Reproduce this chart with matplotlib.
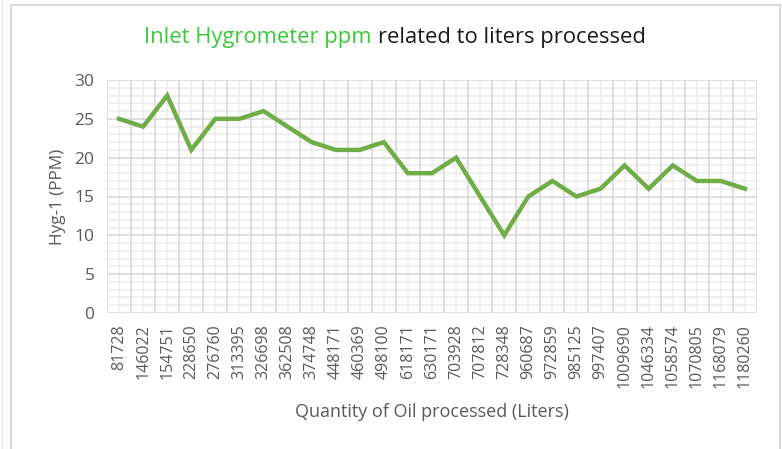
import matplotlib
matplotlib.use("Agg")
import matplotlib.pyplot as plt
from matplotlib.patches import Rectangle
import numpy as np

liters = ["81728", "146022", "154751", "228650", "276760", "313395", "326698",
          "362508", "374748", "448171", "460369", "498100", "618171", "630171",
          "703928", "707812", "728348", "960687", "972859", "985125", "997407",
          "1009690", "1046334", "1058574", "1070805", "1168079", "1180260"]
ppm = [25, 24, 28, 21, 25, 25, 26, 24, 22, 21, 21, 22, 18, 18, 20, 15, 10,
       15, 17, 15, 16, 19, 16, 19, 17, 17, 16]

W, H = 782, 449
fig = plt.figure(figsize=(W / 100, H / 100), dpi=100)
plt.rcParams['font.family'] = ['Open Sans', 'DejaVu Sans']

# chart border (bottom edge lies outside the image)
fig.patches.append(Rectangle((11 / W, -10 / H), (780 - 11) / W, (H + 5) / H,
                             transform=fig.transFigure, fill=False,
                             edgecolor='#D9D9D9', linewidth=1.5))
fig.lines.append(plt.Line2D([2 / W, 2 / W], [0, 1], transform=fig.transFigure,
                            color='#E6E6E6', lw=1))

L, R, T, B = 107, 757, 80, 313
ax = fig.add_axes([L / W, 1 - B / H, (R - L) / W, (B - T) / H])
n = len(liters)
x = np.arange(n)
ax.set_xlim(-0.5, n - 0.5)
ax.set_ylim(0, 30)

# grid
ax.set_yticks(np.arange(0, 31, 5))
ax.set_xticks(x)
for v in np.arange(0, 31, 1):
    if v % 5:
        ax.axhline(v, color='#EDEDED', lw=1.2, zorder=0)
for v in x:
    ax.axvline(v, color='#EDEDED', lw=1.2, zorder=0)
for v in np.arange(-0.5, n, 1):
    ax.axvline(v, color='#D9D9D9', lw=1.2, zorder=1)
for v in np.arange(0, 31, 5):
    ax.axhline(v, color='#D9D9D9', lw=1.2, zorder=1)

ax.plot(x, ppm, color='#70AD47', lw=3.2, solid_joinstyle='miter', zorder=3)

for s in ax.spines.values():
    s.set_visible(False)
ax.tick_params(which='both', length=0)
ax.set_xticklabels(liters, rotation=90, fontsize=11.5, color='#595959')
ax.tick_params(axis='x', pad=8)
ax.tick_params(axis='y', pad=9)
ax.set_yticklabels([str(v) for v in range(0, 31, 5)], fontsize=12.5, color='#595959')

ax.set_ylabel("Hyg-1 (PPM)", fontsize=12.3, color='#595959', labelpad=6)
fig.text(432 / W, 1 - 412 / H, "Quantity of Oil processed (Liters)",
         fontsize=13, color='#595959', ha='center', va='center')

# two-colour title
fig.canvas.draw()
r = fig.canvas.get_renderer()
t1 = fig.text(0, 1 - 38 / H, "Inlet Hygrometer ppm ", fontsize=15.8,
              color='#3CC83C', ha='left', va='center')
t2 = fig.text(0, 1 - 38 / H, "related to liters processed", fontsize=15.8,
              color='#1A1A1A', ha='left', va='center')
w1 = t1.get_window_extent(r).width
w2 = t2.get_window_extent(r).width
start = 395 - (w1 + w2) / 2
t1.set_x(start / W)
t2.set_x((start + w1) / W)

fig.savefig("out.png", dpi=100)
